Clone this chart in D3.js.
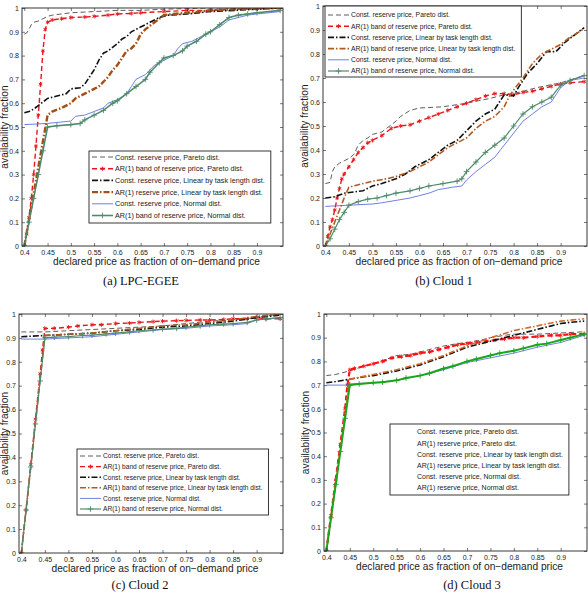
<!DOCTYPE html>
<html>
<head>
<meta charset="utf-8">
<script src="https://cdn.jsdelivr.net/npm/d3@7"></script>
<style>
  body { margin: 0; background: #fff; }
  svg { display: block; }
  text { font-family: "Liberation Sans", Arial, sans-serif; fill: #222; }
  .caption { font-family: "Liberation Serif", "Times New Roman", serif; fill: #111; }
</style>
</head>
<body>
<svg id="fig" width="588" height="597"></svg>
<script>
const xTicks = [0.4, 0.45, 0.5, 0.55, 0.6, 0.65, 0.7, 0.75, 0.8, 0.85, 0.9]
const yTicks = [0, 0.1, 0.2, 0.3, 0.4, 0.5, 0.6, 0.7, 0.8, 0.9, 1]
const xTitle = 'declared price as fraction of on\u2212demand price'
const yTitle = 'availability fraction'

const labelsA = [
  'Const. reserve price, Pareto dist.',
  'AR(1) band of reserve price, Pareto dist.',
  'Const. reserve price, Linear by task length dist.',
  'AR(1) reserve price, Linear by task length dist.',
  'Const. reserve price, Normal dist.',
  'AR(1) band of reserve price, Normal dist.',
]
const labelsBC = [
  'Const. reserve price, Pareto dist.',
  'AR(1) band of reserve price, Pareto dist.',
  'Const. reserve price, Linear by task length dist.',
  'AR(1) band of reserve price, Linear by task length dist.',
  'Const. reserve price, Normal dist.',
  'AR(1) band of reserve price, Normal dist.',
]
const labelsD = [
  'Const. reserve price, Pareto dist.',
  'AR(1) reserve price, Pareto dist.',
  'Const. reserve price, Linear by task length dist.',
  'AR(1) reserve price, Linear by task length dist.',
  'Const. reserve price, Normal dist.',
  'AR(1) reserve price, Normal dist.',
]

// (a) LPC-EGEE
const aConstPareto = [[0.4,0.89],[0.405,0.895],[0.41,0.91],[0.415,0.93],[0.42,0.94],[0.43,0.945],[0.44,0.955],[0.45,0.965],[0.46,0.97],[0.48,0.975],[0.5,0.98],[0.55,0.985],[0.6,0.99],[0.65,0.99],[0.7,0.995],[0.8,1],[0.95,1]]
const aArPareto = [[0.4,0],[0.405,0.05],[0.41,0.12],[0.415,0.2],[0.42,0.3],[0.425,0.42],[0.43,0.55],[0.435,0.68],[0.44,0.82],[0.445,0.91],[0.45,0.94],[0.46,0.95],[0.48,0.955],[0.5,0.96],[0.53,0.962],[0.55,0.965],[0.58,0.97],[0.6,0.975],[0.63,0.977],[0.65,0.98],[0.7,0.985],[0.75,0.99],[0.8,0.99],[0.85,0.995],[0.9,0.997],[0.95,1]]
const aConstLinear = [[0.4,0.56],[0.41,0.565],[0.42,0.575],[0.43,0.59],[0.44,0.605],[0.45,0.62],[0.47,0.63],[0.49,0.64],[0.5,0.66],[0.52,0.665],[0.53,0.68],[0.54,0.71],[0.55,0.74],[0.56,0.78],[0.57,0.81],[0.58,0.82],[0.6,0.85],[0.61,0.87],[0.62,0.88],[0.63,0.9],[0.65,0.92],[0.67,0.94],[0.69,0.96],[0.71,0.97],[0.75,0.975],[0.8,0.985],[0.85,0.99],[0.95,1]]
const aArLinear = [[0.4,0],[0.41,0.11],[0.42,0.22],[0.43,0.33],[0.44,0.44],[0.45,0.55],[0.46,0.565],[0.48,0.58],[0.5,0.6],[0.51,0.62],[0.53,0.64],[0.55,0.66],[0.56,0.67],[0.57,0.69],[0.58,0.71],[0.59,0.74],[0.6,0.76],[0.61,0.79],[0.62,0.82],[0.63,0.83],[0.64,0.85],[0.65,0.89],[0.66,0.91],[0.68,0.94],[0.69,0.955],[0.7,0.97],[0.72,0.975],[0.75,0.98],[0.8,0.99],[0.85,0.995],[0.95,1]]
const aConstNormal = [[0.4,0.51],[0.45,0.515],[0.5,0.525],[0.51,0.545],[0.53,0.55],[0.55,0.565],[0.57,0.58],[0.58,0.6],[0.6,0.615],[0.62,0.64],[0.63,0.67],[0.64,0.7],[0.66,0.72],[0.68,0.76],[0.7,0.78],[0.72,0.8],[0.73,0.83],[0.74,0.85],[0.76,0.86],[0.78,0.88],[0.8,0.9],[0.82,0.92],[0.84,0.95],[0.86,0.96],[0.88,0.97],[0.9,0.975],[0.95,0.985]]
const aArNormal = [[0.4,0],[0.41,0.1],[0.42,0.2],[0.43,0.3],[0.44,0.4],[0.45,0.5],[0.47,0.505],[0.5,0.51],[0.52,0.515],[0.53,0.53],[0.55,0.55],[0.57,0.57],[0.59,0.6],[0.6,0.61],[0.62,0.64],[0.64,0.67],[0.66,0.7],[0.67,0.73],[0.69,0.77],[0.7,0.79],[0.72,0.8],[0.74,0.82],[0.75,0.84],[0.77,0.86],[0.79,0.89],[0.8,0.9],[0.82,0.93],[0.84,0.96],[0.86,0.97],[0.88,0.975],[0.9,0.98],[0.95,0.99]]

// (b) Cloud 1
const bConstPareto = [[0.4,0.26],[0.41,0.265],[0.415,0.31],[0.42,0.33],[0.43,0.345],[0.44,0.355],[0.45,0.365],[0.46,0.38],[0.47,0.42],[0.48,0.44],[0.49,0.45],[0.5,0.465],[0.52,0.475],[0.53,0.49],[0.55,0.52],[0.56,0.54],[0.58,0.565],[0.6,0.575],[0.65,0.58],[0.7,0.595],[0.75,0.615],[0.78,0.63],[0.8,0.635],[0.85,0.66],[0.9,0.68],[0.95,0.71]]
const bArPareto = [[0.4,0],[0.405,0.04],[0.41,0.08],[0.415,0.11],[0.42,0.15],[0.425,0.2],[0.43,0.24],[0.435,0.28],[0.44,0.3],[0.45,0.33],[0.46,0.36],[0.47,0.39],[0.48,0.41],[0.49,0.43],[0.5,0.44],[0.52,0.46],[0.54,0.49],[0.56,0.5],[0.58,0.505],[0.6,0.52],[0.62,0.535],[0.64,0.55],[0.66,0.565],[0.68,0.58],[0.7,0.595],[0.72,0.61],[0.74,0.625],[0.76,0.635],[0.78,0.635],[0.8,0.63],[0.82,0.64],[0.84,0.645],[0.86,0.655],[0.88,0.665],[0.9,0.675],[0.92,0.68],[0.95,0.685]]
const bConstLinear = [[0.4,0.2],[0.42,0.205],[0.44,0.22],[0.46,0.225],[0.48,0.23],[0.5,0.25],[0.52,0.26],[0.55,0.28],[0.57,0.3],[0.59,0.33],[0.6,0.34],[0.62,0.36],[0.64,0.39],[0.66,0.42],[0.68,0.44],[0.7,0.48],[0.72,0.52],[0.74,0.55],[0.76,0.57],[0.77,0.6],[0.78,0.63],[0.8,0.625],[0.81,0.66],[0.83,0.72],[0.85,0.76],[0.87,0.81],[0.89,0.81],[0.91,0.85],[0.93,0.88],[0.95,0.91]]
const bArLinear = [[0.4,0],[0.42,0.1],[0.44,0.2],[0.45,0.245],[0.47,0.255],[0.5,0.27],[0.53,0.28],[0.55,0.29],[0.58,0.31],[0.6,0.33],[0.62,0.35],[0.64,0.38],[0.66,0.41],[0.68,0.43],[0.7,0.45],[0.72,0.49],[0.74,0.52],[0.76,0.54],[0.78,0.58],[0.79,0.62],[0.8,0.65],[0.82,0.7],[0.84,0.76],[0.86,0.8],[0.88,0.82],[0.9,0.84],[0.92,0.87],[0.95,0.905]]
const bConstNormal = [[0.4,0.165],[0.45,0.17],[0.5,0.175],[0.52,0.18],[0.55,0.19],[0.58,0.2],[0.6,0.21],[0.62,0.22],[0.64,0.235],[0.67,0.245],[0.69,0.25],[0.7,0.275],[0.72,0.31],[0.74,0.34],[0.76,0.37],[0.78,0.42],[0.8,0.47],[0.82,0.52],[0.84,0.55],[0.86,0.58],[0.88,0.6],[0.9,0.66],[0.92,0.69],[0.95,0.7]]
const bArNormal = [[0.4,0],[0.41,0.03],[0.42,0.07],[0.43,0.11],[0.44,0.14],[0.45,0.17],[0.47,0.185],[0.49,0.195],[0.51,0.2],[0.53,0.21],[0.55,0.22],[0.58,0.23],[0.6,0.24],[0.62,0.25],[0.65,0.26],[0.68,0.27],[0.69,0.28],[0.7,0.31],[0.72,0.35],[0.74,0.39],[0.76,0.42],[0.78,0.45],[0.8,0.5],[0.82,0.55],[0.84,0.58],[0.86,0.6],[0.88,0.62],[0.9,0.67],[0.92,0.69],[0.95,0.71]]

// (c) Cloud 2
const cConstPareto = [[0.4,0.925],[0.45,0.925],[0.5,0.93],[0.55,0.935],[0.6,0.94],[0.65,0.945],[0.7,0.95],[0.75,0.96],[0.8,0.97],[0.85,0.975],[0.9,0.985],[0.95,1]]
const cArPareto = [[0.4,0],[0.41,0.18],[0.42,0.37],[0.43,0.56],[0.44,0.75],[0.445,0.85],[0.45,0.94],[0.47,0.94],[0.5,0.945],[0.52,0.95],[0.55,0.955],[0.57,0.955],[0.6,0.96],[0.63,0.962],[0.65,0.965],[0.68,0.968],[0.7,0.97],[0.73,0.972],[0.75,0.973],[0.78,0.975],[0.8,0.975],[0.83,0.977],[0.85,0.98],[0.88,0.98],[0.9,0.985],[0.92,0.98],[0.95,0.98]]
const cConstLinear = [[0.4,0.905],[0.45,0.91],[0.5,0.915],[0.55,0.92],[0.6,0.93],[0.65,0.935],[0.7,0.945],[0.75,0.95],[0.8,0.96],[0.85,0.97],[0.9,0.985],[0.95,0.995]]
const cArLinear = [[0.4,0],[0.41,0.18],[0.42,0.36],[0.43,0.55],[0.44,0.73],[0.45,0.91],[0.5,0.915],[0.55,0.92],[0.6,0.93],[0.65,0.94],[0.7,0.95],[0.75,0.955],[0.8,0.965],[0.85,0.975],[0.9,0.99],[0.95,1]]
const cConstNormal = [[0.4,0.895],[0.45,0.895],[0.5,0.9],[0.55,0.905],[0.6,0.915],[0.65,0.925],[0.7,0.935],[0.75,0.94],[0.8,0.95],[0.85,0.955],[0.88,0.96],[0.9,0.975],[0.95,0.985]]
const cArNormal = [[0.4,0],[0.41,0.18],[0.42,0.36],[0.43,0.54],[0.44,0.72],[0.45,0.9],[0.47,0.903],[0.5,0.905],[0.53,0.91],[0.55,0.912],[0.58,0.917],[0.6,0.92],[0.63,0.925],[0.65,0.93],[0.68,0.933],[0.7,0.937],[0.73,0.94],[0.75,0.945],[0.78,0.95],[0.8,0.955],[0.83,0.958],[0.85,0.96],[0.88,0.965],[0.9,0.975],[0.92,0.98],[0.95,0.985]]

// (d) Cloud 3
const dConstPareto = [[0.4,0.74],[0.42,0.745],[0.45,0.76],[0.48,0.78],[0.5,0.79],[0.53,0.81],[0.55,0.825],[0.58,0.83],[0.6,0.84],[0.63,0.855],[0.65,0.865],[0.68,0.875],[0.7,0.88],[0.73,0.89],[0.75,0.9],[0.78,0.91],[0.8,0.915],[0.85,0.915],[0.9,0.92],[0.95,0.925]]
const dArPareto = [[0.4,0],[0.41,0.15],[0.42,0.3],[0.43,0.45],[0.44,0.6],[0.445,0.7],[0.45,0.765],[0.46,0.77],[0.48,0.78],[0.5,0.79],[0.52,0.8],[0.54,0.815],[0.56,0.82],[0.58,0.825],[0.6,0.835],[0.62,0.84],[0.64,0.85],[0.66,0.86],[0.68,0.87],[0.7,0.875],[0.72,0.88],[0.74,0.885],[0.76,0.89],[0.78,0.895],[0.8,0.9],[0.82,0.9],[0.85,0.905],[0.88,0.91],[0.9,0.91],[0.92,0.915],[0.95,0.915]]
const dConstLinear = [[0.4,0.71],[0.42,0.715],[0.45,0.725],[0.48,0.735],[0.5,0.74],[0.55,0.76],[0.6,0.785],[0.65,0.82],[0.7,0.86],[0.75,0.885],[0.8,0.91],[0.85,0.935],[0.88,0.95],[0.9,0.96],[0.92,0.965],[0.95,0.97]]
const dArLinear = [[0.4,0],[0.41,0.145],[0.42,0.29],[0.43,0.435],[0.44,0.58],[0.45,0.725],[0.5,0.745],[0.55,0.765],[0.6,0.79],[0.65,0.825],[0.7,0.865],[0.75,0.9],[0.8,0.93],[0.85,0.95],[0.9,0.97],[0.95,0.98]]
const dConstNormal = [[0.4,0.7],[0.44,0.7],[0.45,0.705],[0.5,0.71],[0.55,0.72],[0.6,0.74],[0.65,0.765],[0.7,0.795],[0.75,0.815],[0.8,0.835],[0.85,0.86],[0.9,0.88],[0.95,0.91]]
const dArNormal = [[0.4,0],[0.41,0.14],[0.42,0.28],[0.43,0.42],[0.44,0.56],[0.45,0.7],[0.47,0.705],[0.5,0.71],[0.52,0.712],[0.55,0.72],[0.57,0.73],[0.6,0.74],[0.62,0.75],[0.65,0.77],[0.67,0.78],[0.7,0.8],[0.72,0.81],[0.75,0.825],[0.77,0.835],[0.8,0.845],[0.82,0.855],[0.85,0.87],[0.87,0.875],[0.9,0.89],[0.92,0.9],[0.95,0.915]]

// line styles, one per series slot
const baseStyles = [
  { stroke: '#333', width: 0.8, dash: '5,3' },
  { stroke: '#e8161b', width: 1.4, dash: '5,3', marker: d3.symbolAsterisk, msize: 12 },
  { stroke: '#111', width: 1.6, dash: '6,2,1.5,2' },
  { stroke: '#b05a22', width: 1.6, dash: '6,2,1.5,2' },
  { stroke: '#4b5de0', width: 0.8 },
  { stroke: '#4f8a6c', width: 1.2, marker: d3.symbolPlus, msize: 12 },
]
const styleA = baseStyles.map((s, i) => i === 3 ? { ...s, stroke: '#a34f16', width: 2.4 } : i === 5 ? { ...s, width: 1.6 } : s)
const styleD = baseStyles.map((s, i) =>
  i === 1 ? { ...s, stroke: '#ff1010', width: 2.2 } :
  i === 3 ? { ...s, stroke: '#d46a2a' } :
  i === 5 ? { ...s, stroke: '#1aa51a', width: 2 } : s)

const panels = [
  { caption: '(a) LPC-EGEE', series: [aConstPareto, aArPareto, aConstLinear, aArLinear, aConstNormal, aArNormal],
    labels: labelsA, styles: styleA, left: 22, right: 283, top: 8, bottom: 246, capX: 141, capY: 285,
    legend: { x: 89, y: 151, h: 72, row0: 157, rowH: 11.7, font: 7.2, sample: true } },
  { caption: '(b) Cloud 1', series: [bConstPareto, bArPareto, bConstLinear, bArLinear, bConstNormal, bArNormal],
    labels: labelsBC, styles: baseStyles, left: 323, right: 587, top: 6, bottom: 246, capX: 444, capY: 285,
    legend: { x: 325, y: 6, h: 71, row0: 15, rowH: 11.2, font: 6.8, sample: true } },
  { caption: '(c) Cloud 2', series: [cConstPareto, cArPareto, cConstLinear, cArLinear, cConstNormal, cArNormal],
    labels: labelsBC, styles: baseStyles, left: 19, right: 283, top: 314, bottom: 553, capX: 140, capY: 589,
    legend: { x: 77, y: 449, h: 66, row0: 456, rowH: 10.6, font: 6.6, sample: true } },
  { caption: '(d) Cloud 3', series: [dConstPareto, dArPareto, dConstLinear, dArLinear, dConstNormal, dArNormal],
    labels: labelsD, styles: styleD, left: 324, right: 587, top: 314, bottom: 551, capX: 472, capY: 589,
    legend: { x: 390, y: 424, h: 71, row0: 432, rowH: 11.2, font: 7, sample: false } },
]

const svg = d3.select('#fig')

const drawPanel = (p, idx) => {
  const x = d3.scaleLinear().domain([0.395, 0.956]).range([p.left, p.right])
  const y = d3.scaleLinear().domain([0, 1]).range([p.bottom, p.top])
  const g = svg.append('g')

  const clipId = `clip${idx}`
  g.append('clipPath').attr('id', clipId)
    .append('rect').attr('x', p.left).attr('y', p.top)
    .attr('width', p.right - p.left).attr('height', p.bottom - p.top)

  const line = d3.line().x(d => x(d[0])).y(d => y(d[1]))
  const plot = g.append('g').attr('clip-path', `url(#${clipId})`)

  p.series.forEach((pts, i) => {
    const s = p.styles[i]
    plot.append('path').datum(pts)
      .attr('d', line).attr('fill', 'none')
      .attr('stroke', s.stroke).attr('stroke-width', s.width)
      .attr('stroke-dasharray', s.dash || null)
    if (s.marker) {
      plot.selectAll(null).data(pts).join('path')
        .attr('d', d3.symbol(s.marker, s.msize))
        .attr('transform', d => `translate(${x(d[0])},${y(d[1])})`)
        .attr('fill', 'none').attr('stroke', s.stroke).attr('stroke-width', 0.9)
    }
  })

  // axes, inward ticks on all four sides
  const fmt = d => String(d)
  const ax = (axis, tr) => g.append('g').attr('transform', tr).call(axis)
    .call(a => a.select('.domain').remove())
    .call(a => a.selectAll('.tick line').attr('stroke', '#222').attr('stroke-width', 0.6))
    .call(a => a.selectAll('text').attr('font-size', 7).attr('fill', '#333')
      .style('font-family', '"Liberation Sans", Arial, sans-serif'))
  ax(d3.axisBottom(x).tickValues(xTicks).tickSize(-3).tickPadding(4).tickFormat(fmt), `translate(0,${p.bottom})`)
  ax(d3.axisTop(x).tickValues(xTicks).tickSize(-3).tickFormat(''), `translate(0,${p.top})`)
  ax(d3.axisLeft(y).tickValues(yTicks).tickSize(-3).tickPadding(3).tickFormat(fmt), `translate(${p.left},0)`)
  ax(d3.axisRight(y).tickValues(yTicks).tickSize(-3).tickFormat(''), `translate(${p.right},0)`)

  g.append('rect').attr('x', p.left).attr('y', p.top)
    .attr('width', p.right - p.left).attr('height', p.bottom - p.top)
    .attr('fill', 'none').attr('stroke', '#222').attr('stroke-width', 0.9)

  // titles
  g.append('text').attr('x', (p.left + p.right) / 2 + 4).attr('y', p.bottom + 19)
    .attr('text-anchor', 'middle').attr('font-size', 10.2).attr('fill', '#222').text(xTitle)
  g.append('text').attr('transform', `translate(${Math.max(p.left - 15, 8)},${(p.top + p.bottom) / 2}) rotate(-90)`)
    .attr('text-anchor', 'middle').attr('font-size', 10.2).attr('fill', '#222').text(yTitle)
  g.append('text').attr('class', 'caption').attr('x', p.capX).attr('y', p.capY)
    .attr('text-anchor', 'middle').attr('font-size', 12.5).text(p.caption)

  // legend
  const L = p.legend
  const box = g.append('rect').attr('x', L.x).attr('y', L.y).attr('height', L.h)
    .attr('fill', '#fff').attr('stroke', '#222').attr('stroke-width', 0.9)
  const textX = L.sample ? L.x + 26 : L.x + 27
  let maxW = 0
  p.labels.forEach((lab, i) => {
    const ry = L.row0 + i * L.rowH
    const s = p.styles[i]
    if (L.sample) {
      g.append('line').attr('x1', L.x + 3).attr('x2', L.x + 24).attr('y1', ry).attr('y2', ry)
        .attr('stroke', s.stroke).attr('stroke-width', s.width).attr('stroke-dasharray', s.dash || null)
      if (s.marker) {
        g.append('path').attr('d', d3.symbol(s.marker, s.msize))
          .attr('transform', `translate(${L.x + 13.5},${ry})`)
          .attr('fill', 'none').attr('stroke', s.stroke).attr('stroke-width', 0.9)
      }
    }
    const t = g.append('text').attr('x', textX).attr('y', ry).attr('dy', '0.35em')
      .attr('font-size', L.font).attr('fill', '#222').text(lab)
    maxW = Math.max(maxW, t.node().getComputedTextLength())
  })
  box.attr('width', textX - L.x + maxW + 6)
}

panels.forEach(drawPanel)
</script>
</body>
</html>
